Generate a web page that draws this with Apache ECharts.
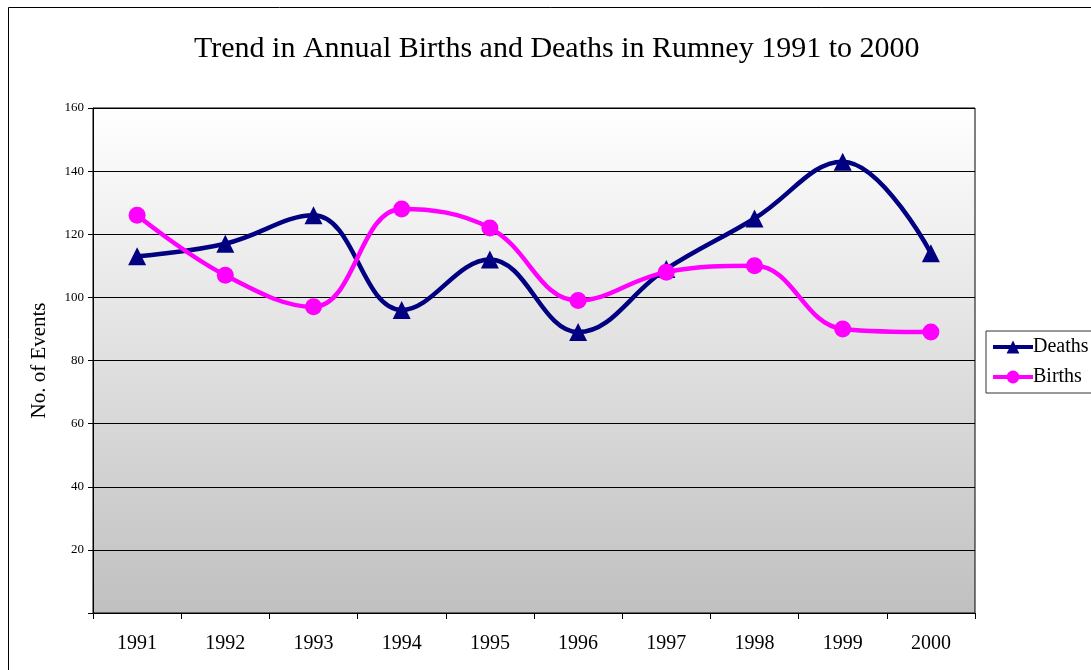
<!DOCTYPE html>
<html>
<head>
<meta charset="utf-8">
<script src="https://cdn.jsdelivr.net/npm/echarts@6/dist/echarts.min.js"></script>
<style>
html,body{margin:0;padding:0;background:#fff;}
#chart{width:1091px;height:670px;}
</style>
</head>
<body>
<div id="chart"></div>
<script>
var years = ['1991', '1992', '1993', '1994', '1995', '1996', '1997', '1998', '1999', '2000'];
var deaths = [113, 117, 126, 96, 112, 89, 109, 125, 143, 114];
var births = [126, 107, 97, 128, 122, 99, 108, 110, 90, 89];
var yTicks = [20, 40, 60, 80, 100, 120, 140, 160];

var font = '"Liberation Serif", "Times New Roman", serif';
var myChart = echarts.init(document.getElementById('chart'));
var option = {
	animation: false,
	textStyle: { fontFamily: font, color: '#000' },
	graphic: [{
		type: 'rect',
		shape: { x: 8.5, y: 7.5, width: 1200, height: 800 },
		style: { fill: 'none', stroke: '#000', lineWidth: 1 },
		silent: true
	}],
	title: {
		text: 'Trend in Annual Births and Deaths in Rumney 1991 to 2000',
		left: 189,
		top: 29,
		textStyle: { fontFamily: font, fontSize: 30, fontWeight: 'normal', color: '#000' }
	},
	legend: {
		orient: 'vertical',
		left: 986,
		top: 331,
		data: ['Deaths', 'Births'],
		itemWidth: 40,
		itemHeight: 16,
		itemGap: 10,
		padding: [6, 30, 6, 5],
		borderColor: '#333',
		borderWidth: 1,
		lineStyle: { width: 4 },
		textStyle: { fontFamily: font, fontSize: 20, color: '#000', padding: [0, 0, 0, -5] }
	},
	grid: {
		left: 93,
		right: 116,
		top: 108,
		bottom: 57,
		show: true,
		borderColor: '#000',
		borderWidth: 1,
		backgroundColor: {
			type: 'linear', x: 0, y: 0, x2: 0, y2: 1,
			colorStops: [{ offset: 0, color: '#ffffff' }, { offset: 1, color: '#c0c0c0' }]
		}
	},
	xAxis: {
		type: 'category',
		boundaryGap: true,
		data: years,
		axisLine: { lineStyle: { color: '#000', width: 1 } },
		axisTick: { show: true, length: 6, inside: false, lineStyle: { color: '#000' } },
		axisLabel: { fontFamily: font, fontSize: 20, color: '#000', margin: 21 }
	},
	yAxis: {
		type: 'value',
		min: 0,
		max: 160,
		interval: 20,
		name: 'No. of Events',
		nameLocation: 'middle',
		nameGap: 43,
		nameTextStyle: { fontFamily: font, fontSize: 21, color: '#000' },
		axisLine: { show: true, lineStyle: { color: '#000' } },
		axisTick: { show: true, length: 5, lineStyle: { color: '#000' } },
		axisLabel: {
			fontFamily: font, fontSize: 13, color: '#000', margin: 9,
			formatter: function (v) { return yTicks.indexOf(v) >= 0 ? String(v) : ''; }
		},
		splitLine: { show: true, lineStyle: { color: '#000', width: 1 } }
	},
	series: [{
		name: 'Deaths',
		type: 'line',
		smooth: 0.4,
		symbol: 'triangle',
		symbolSize: 18,
		itemStyle: { color: '#000080' },
		lineStyle: { color: '#000080', width: 4.5 },
		data: deaths
	}, {
		name: 'Births',
		type: 'line',
		smooth: 0.4,
		symbol: 'circle',
		symbolSize: 17,
		itemStyle: { color: '#ff00ff' },
		lineStyle: { color: '#ff00ff', width: 4.5 },
		data: births
	}]
};
myChart.setOption(option);
</script>
</body>
</html>
